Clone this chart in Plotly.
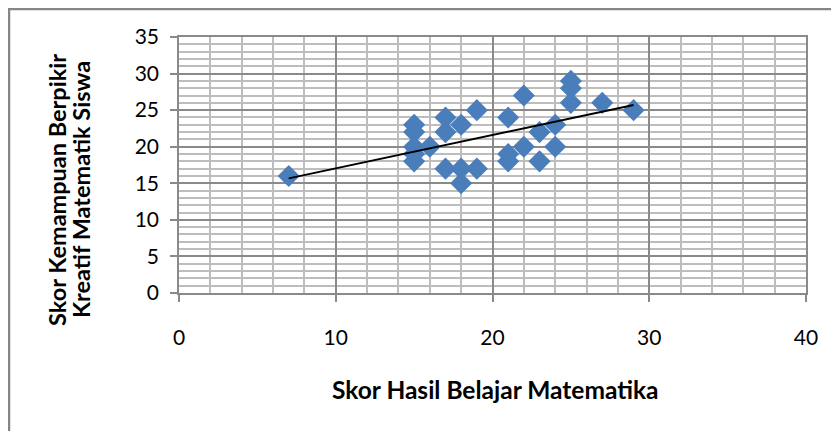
import numpy as np
import plotly.graph_objects as go

# Data
hasil_belajar = [7, 15, 15, 15, 15, 15, 16, 17, 17, 17, 18, 18, 18, 19, 19,
                 21, 21, 21, 22, 22, 23, 23, 24, 24, 25, 25, 25, 27, 29]
kreatif = [16, 23, 22, 20, 19, 18, 20, 24, 22, 17, 23, 17, 15, 25, 17,
           24, 19, 18, 27, 20, 22, 18, 23, 20, 29, 28, 26, 26, 25]

x_title = "Skor Hasil Belajar Matematika"
y_title_lines = ["Skor Kemampuan Berpikir", "Kreatif Matematik Siswa"]

# Linear trendline (least squares)
slope, intercept = np.polyfit(hasil_belajar, kreatif, 1)
tx = [min(hasil_belajar), max(hasil_belajar)]
ty = [slope * v + intercept for v in tx]

OFF = 8  # page body margin
W, H = 839 - OFF, 431 - OFF
# plot area in page pixels: x 179..806, y 37..293.5
L = 179 - OFF
T = 37 - OFF
pw = 806 - 179
ph = 256
R = W - L - pw
B = H - T - ph


def px_x(page_x):
    return (page_x - OFF - L) / pw


def px_y(page_y):
    return (T + ph - (page_y - OFF)) / ph


fig = go.Figure()
fig.add_trace(go.Scatter(
    x=hasil_belajar, y=kreatif, mode="markers",
    marker=dict(symbol="diamond", size=17, color="#4A7EBB", line=dict(width=0)),
    showlegend=False, hoverinfo="x+y"))
fig.add_trace(go.Scatter(
    x=tx, y=ty, mode="lines", line=dict(color="black", width=2),
    showlegend=False, hoverinfo="skip"))

font_family = "Lato, 'Open Sans', sans-serif"
x_title_font = dict(size=24.5, family=font_family, color="black")
y_title_font = dict(size=23.5, family=font_family, color="black")

annotations = [
    dict(text="<b>" + x_title + "</b>", xref="paper", yref="paper",
         x=px_x(495), y=px_y(389),
         xanchor="center", yanchor="middle", showarrow=False,
         font=x_title_font),
]
for i, line in enumerate(y_title_lines):
    annotations.append(
        dict(text="<b>" + line + "</b>", xref="paper", yref="paper",
             x=px_x(57 + 24 * i), y=px_y(190),
             xanchor="center", yanchor="middle", showarrow=False,
             textangle=-90, font=y_title_font))

fig.update_layout(
    width=W, height=H,
    margin=dict(l=L, r=R, t=T, b=B, autoexpand=False),
    paper_bgcolor="white", plot_bgcolor="white",
    font=dict(family=font_family, color="black"),
    xaxis=dict(
        range=[0, 40], dtick=10, tick0=0,
        showgrid=True, gridcolor="#8a8a8a", gridwidth=1.5,
        minor=dict(dtick=2, showgrid=True, gridcolor="#bdbdbd", gridwidth=1.5),
        showline=True, linecolor="#8a8a8a", linewidth=1.5, mirror=True,
        ticks="outside", ticklen=7, tickcolor="#8a8a8a", tickwidth=1.5,
        tickfont=dict(size=21, family=font_family),
        ticklabelstandoff=18,
        zeroline=False, fixedrange=True),
    yaxis=dict(
        range=[0, 35], dtick=5, tick0=0,
        showgrid=True, gridcolor="#8a8a8a", gridwidth=1.5,
        minor=dict(dtick=1, showgrid=True, gridcolor="#bdbdbd", gridwidth=1.5),
        showline=True, linecolor="#8a8a8a", linewidth=1.5, mirror=True,
        ticks="outside", ticklen=7, tickcolor="#8a8a8a", tickwidth=1.5,
        tickfont=dict(size=21, family=font_family),
        ticklabelstandoff=7,
        zeroline=False, fixedrange=True),
    annotations=annotations,
    shapes=[
        dict(type="line", xref="paper", yref="paper",
             x0=px_x(9), x1=px_x(9), y0=px_y(8), y1=px_y(440),
             line=dict(color="#868686", width=2.5)),
        dict(type="line", xref="paper", yref="paper",
             x0=px_x(8), x1=px_x(850), y0=px_y(9), y1=px_y(9),
             line=dict(color="#868686", width=2.5)),
    ],
)

fig.write_html("out.html")
